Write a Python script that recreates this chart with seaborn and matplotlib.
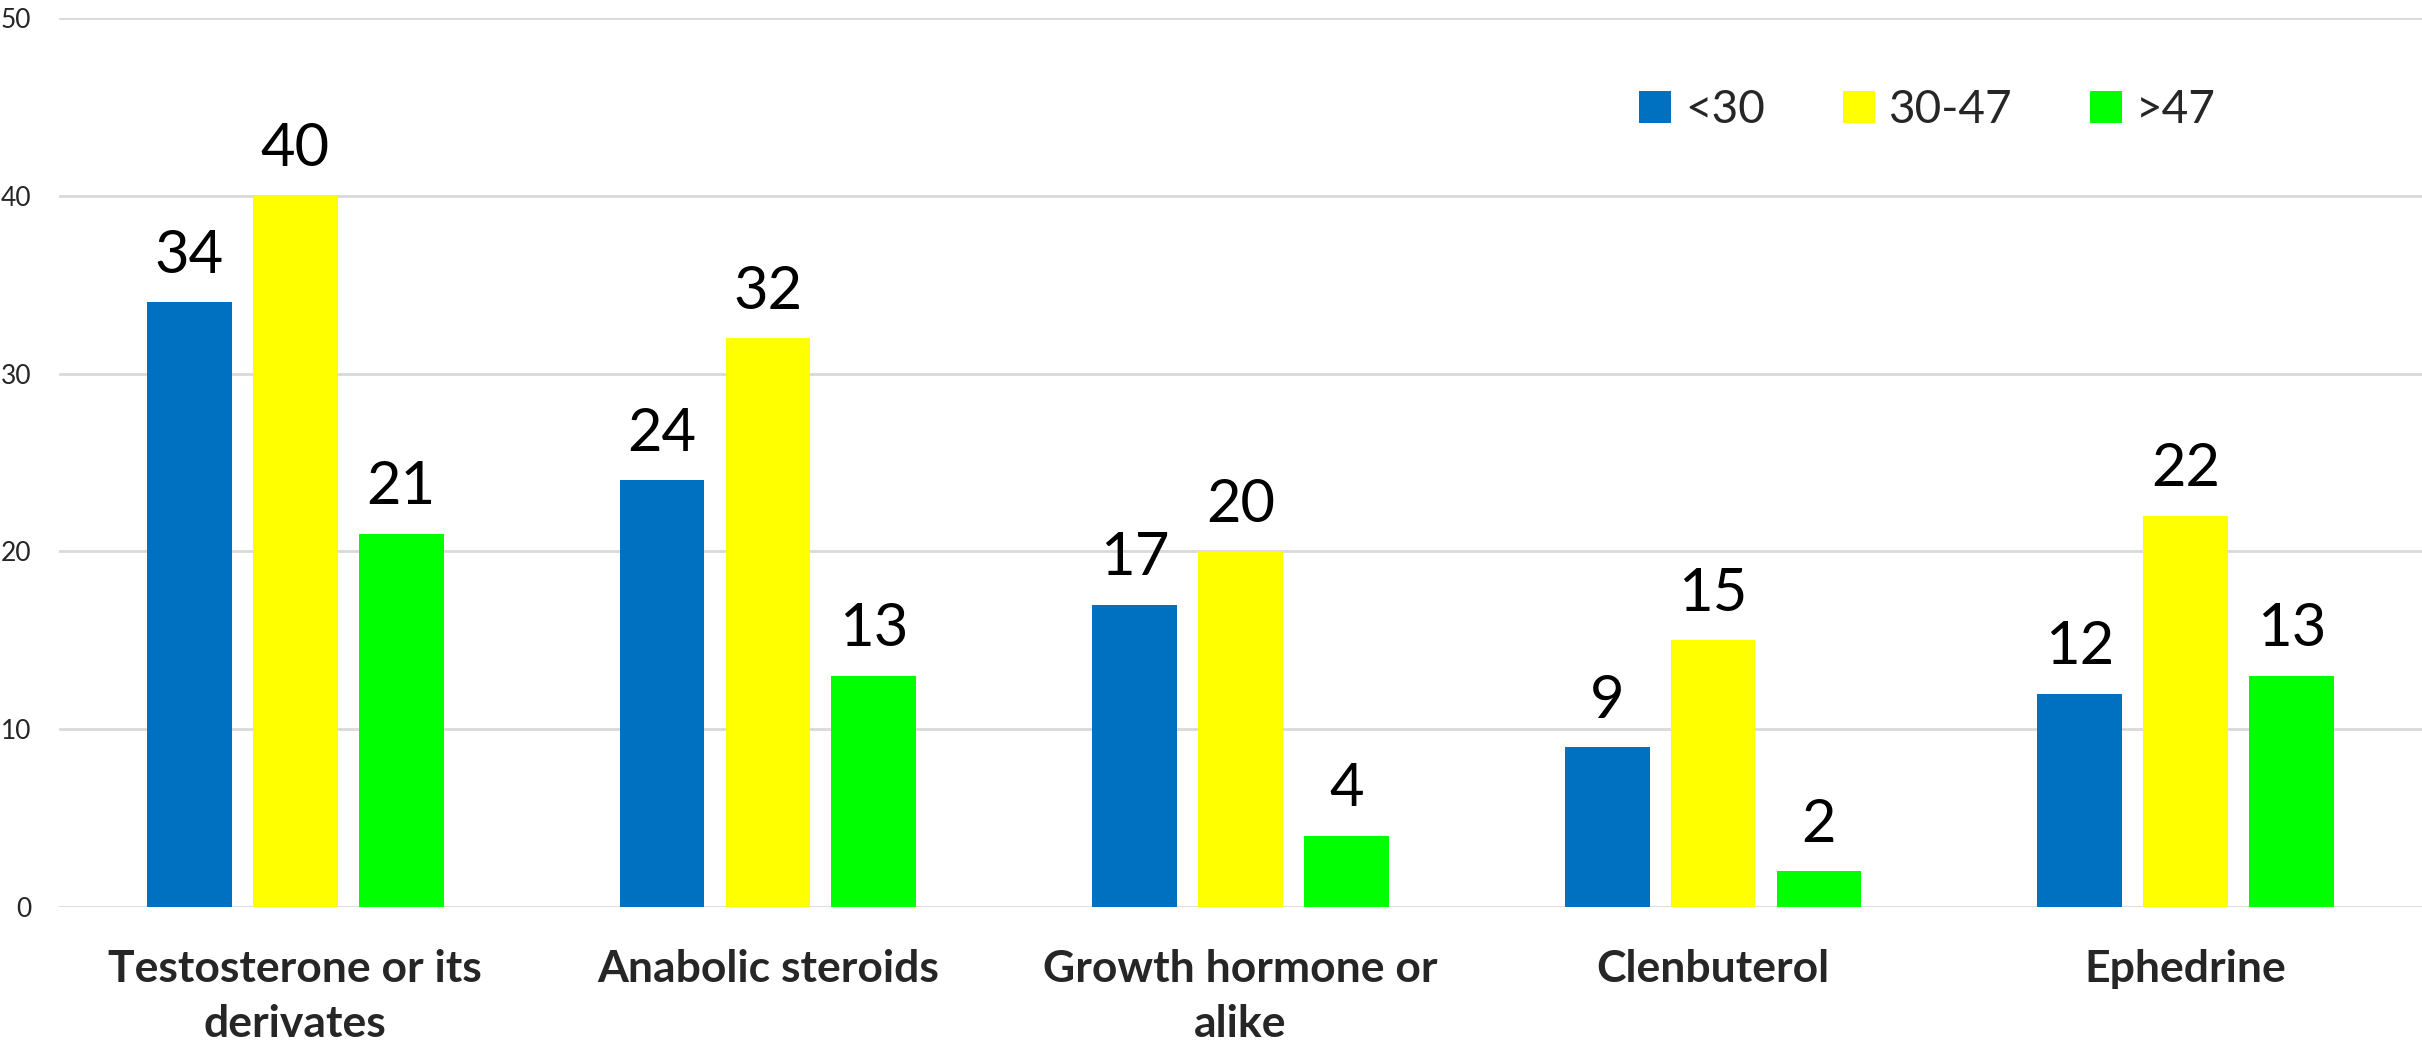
import pandas as pd
import seaborn as sns
import matplotlib.pyplot as plt
from matplotlib.patches import Patch

# Datos
categorias = ['Testosterone or its\nderivates', 'Anabolic steroids',
              'Growth hormone or\nalike', 'Clenbuterol', 'Ephedrine']
grupos = ['<30', '30-47', '>47']
menores_30 = [34, 24, 17, 9, 12]
entre_30_47 = [40, 32, 20, 15, 22]
mayores_47 = [21, 13, 4, 2, 13]
colores = ['#0070C0', '#FFFF00', '#00FF00']

df = pd.DataFrame({
    'sustancia': categorias * 3,
    'edad': [g for g in grupos for _ in categorias],
    'n': menores_30 + entre_30_47 + mayores_47,
})

sns.set_style('white')
plt.rcParams['font.family'] = ['Lato', 'DejaVu Sans']

fig = plt.figure(figsize=(24.22, 10.52), dpi=100)
ax = fig.add_axes([59 / 2422, 1 - 907 / 1052, 1 - 59 / 2422, (907 - 18) / 1052])

sns.barplot(data=df, x='sustancia', y='n', hue='edad', palette=colores,
            width=0.672, gap=0.2, saturation=1, ax=ax, legend=False,
            edgecolor='none')

for cont in ax.containers:
    ax.bar_label(cont, fontsize=43, padding=14, color='black')

ax.set_ylim(0, 50)
ax.set_yticks(range(0, 51, 10))
ax.yaxis.grid(True, color='#d9d9d9', linewidth=2)
ax.set_axisbelow(True)
ax.set_xlabel('')
ax.set_ylabel('')
sns.despine(ax=ax, left=True, bottom=True)
ax.tick_params(axis='y', length=0, labelsize=19, pad=20)
ax.tick_params(axis='x', length=0, labelsize=32, pad=30)
for t in ax.get_xticklabels():
    t.set_fontweight('bold')
    t.set_linespacing(1.45)

manejadores = [Patch(facecolor=c, edgecolor='none') for c in colores]
ax.legend(manejadores, grupos, loc='center left',
          bbox_to_anchor=(1639 / 2422, 1 - 110 / 1052), bbox_transform=fig.transFigure,
          ncol=3, frameon=False, fontsize=33, borderpad=0, borderaxespad=0,
          handlelength=0.7, handleheight=0.7, handletextpad=0.3, columnspacing=1.7)

fig.savefig('out.png', dpi=100)
